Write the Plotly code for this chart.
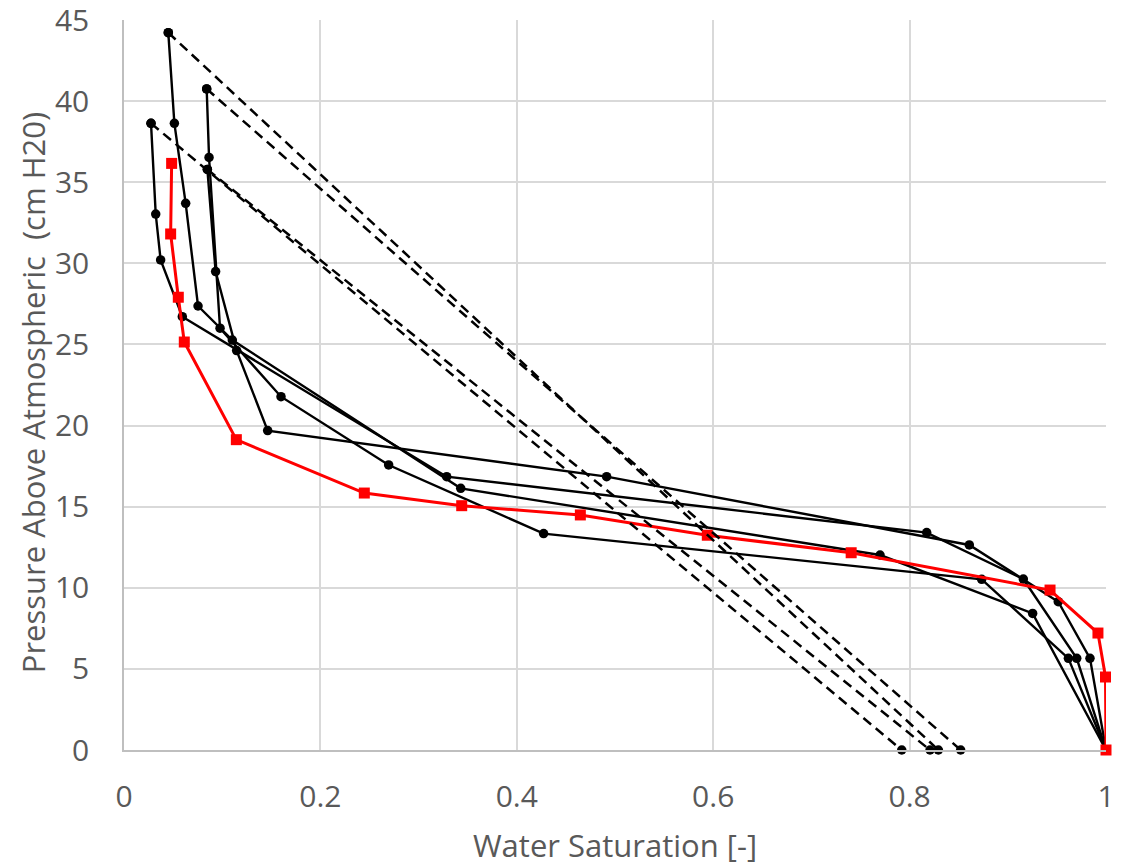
import plotly.graph_objects as go

# Black curves (water saturation, pressure above atmospheric)
curve_a_x = [0.0451, 0.0513, 0.0628, 0.0754, 0.1103, 0.3429, 0.7699, 0.9253, 1.0]
curve_a_y = [44.22, 38.63, 33.70, 27.37, 25.27, 16.13, 12.02, 8.42, 0.0]

curve_b_x = [0.0842, 0.0866, 0.0978, 0.1599, 0.2695, 0.4273, 0.8734, 0.9617, 1.0]
curve_b_y = [40.75, 36.53, 26.00, 21.78, 17.57, 13.34, 10.52, 5.65, 0.0]

curve_c_x = [0.0275, 0.0323, 0.0373, 0.0594, 0.3286, 0.8174, 0.9158, 0.9702, 1.0]
curve_c_y = [38.63, 33.04, 30.21, 26.71, 16.85, 13.40, 10.54, 5.65, 0.0]

curve_d_x = [0.0849, 0.0933, 0.1147, 0.1463, 0.4915, 0.8608, 0.9514, 0.9837, 1.0]
curve_d_y = [35.79, 29.49, 24.62, 19.69, 16.85, 12.64, 9.14, 5.65, 0.0]

# Red curve
red_x = [0.0485, 0.0475, 0.0553, 0.0614, 0.1144, 0.2447, 0.3439, 0.4647,
         0.5940, 0.7405, 0.9430, 0.9918, 0.9995, 1.0]
red_y = [36.16, 31.81, 27.91, 25.15, 19.13, 15.84, 15.06, 14.49,
         13.24, 12.16, 9.86, 7.21, 4.50, 0.0]

# Dashed connectors: top point -> saturation at zero pressure
dash_top_x = [0.0451, 0.0842, 0.0275, 0.0849]
dash_top_y = [44.22, 40.75, 38.63, 35.79]
dash_bottom_x = [0.8293, 0.8520, 0.7920, 0.8208]
dash_bottom_y = [0.0, 0.0, 0.0, 0.0]

x_ticks = [0, 0.2, 0.4, 0.6, 0.8, 1]
y_ticks = [0, 5, 10, 15, 20, 25, 30, 35, 40, 45]

x_title = "Water Saturation [-]"
y_title = "Pressure Above Atmospheric  (cm H20)"

FONT = "Open Sans"
TEXT_COLOR = "#595959"

fig = go.Figure()

for cx, cy in [(curve_a_x, curve_a_y), (curve_b_x, curve_b_y),
               (curve_c_x, curve_c_y), (curve_d_x, curve_d_y)]:
    fig.add_trace(go.Scatter(
        x=cx, y=cy, mode="lines+markers",
        line=dict(color="black", width=2.4),
        marker=dict(symbol="circle", size=9.5, color="black"),
        cliponaxis=False, showlegend=False,
    ))

fig.add_trace(go.Scatter(
    x=red_x, y=red_y, mode="lines+markers",
    line=dict(color="#ff0000", width=3),
    marker=dict(symbol="square", size=11, color="#ff0000"),
    cliponaxis=False, showlegend=False,
))

for tx, ty, bx, by in zip(dash_top_x, dash_top_y, dash_bottom_x, dash_bottom_y):
    fig.add_trace(go.Scatter(
        x=[tx, bx], y=[ty, by], mode="lines+markers",
        line=dict(color="black", width=2.5, dash="10px,6px"),
        marker=dict(symbol="circle", size=9.5, color="black"),
        cliponaxis=False, showlegend=False,
    ))

fig.update_layout(
    width=1125, height=867,
    margin=dict(l=124, r=19, t=20, b=117, autoexpand=False),
    paper_bgcolor="white", plot_bgcolor="white",
    font=dict(family=FONT, color=TEXT_COLOR, size=30),
    showlegend=False,
    annotations=[
        dict(text=x_title, xref="paper", yref="paper", x=0.5, y=-0.130,
             xanchor="center", yanchor="middle", showarrow=False,
             font=dict(family=FONT, size=31, color=TEXT_COLOR)),
        dict(text=y_title, xref="paper", yref="paper", x=-0.0927, y=0.49,
             xanchor="center", yanchor="middle", textangle=-90, showarrow=False,
             font=dict(family=FONT, size=31, color=TEXT_COLOR)),
    ],
)

fig.update_xaxes(
    range=[0, 1], tickvals=x_ticks, ticktext=[str(v) for v in x_ticks],
    showgrid=True, gridcolor="#d9d9d9", gridwidth=1.5,
    showline=True, linecolor="#bfbfbf", linewidth=1.5,
    zeroline=False, ticks="", ticklabelstandoff=19, automargin=False,
    ticklabeloverflow="allow",
    tickfont=dict(family=FONT, size=30, color=TEXT_COLOR),
)
fig.update_yaxes(
    range=[0, 45], tickvals=y_ticks,
    showgrid=True, gridcolor="#d9d9d9", gridwidth=1.5,
    showline=True, linecolor="#bfbfbf", linewidth=1.5,
    zeroline=False, ticks="", ticklabelstandoff=27, automargin=False,
    ticklabeloverflow="allow",
    tickfont=dict(family=FONT, size=30, color=TEXT_COLOR),
)

# remove the default 8px page margin so the figure fills the window exactly
fig.write_html(
    "out.html",
    config={"displayModeBar": False},
    post_script="document.body.style.margin='0';document.body.style.overflow='hidden';",
)
